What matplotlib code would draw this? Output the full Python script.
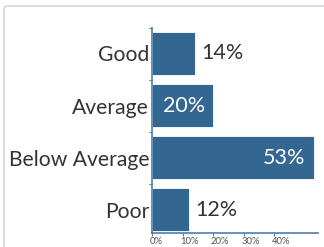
import matplotlib
matplotlib.use('Agg')
import matplotlib.pyplot as plt
from matplotlib.patches import FancyBboxPatch
import numpy as np

categories = ['Good', 'Average', 'Below Average', 'Poor']
values = [14, 20, 53, 12]
xticks = [0, 10, 20, 30, 40]
xticklabels = ['0%', '10%', '20%', '30%', '40%']

bar_color = '#336791'
axis_color = '#4a7fb0'
text_color = '#333333'

plt.rcParams['font.family'] = ['Lato', 'DejaVu Sans']

fig = plt.figure(figsize=(3.24, 2.47), dpi=100)

# card border, kept behind the axes
card = FancyBboxPatch((4/324, 1-6/247 - 1.2), 1.2, 1.2, boxstyle='round,pad=0,rounding_size=0.012',
                      transform=fig.transFigure, facecolor='white', edgecolor='#d6d6d6', lw=1.2,
                      zorder=-5)
fig.patches.append(card)

ax = fig.add_axes([152/324, 1-233/247, 166/324, 205/247])
ax.set_facecolor('none')

y = np.arange(len(categories))
ax.barh(y, values, height=0.83, color=bar_color, edgecolor='white', linewidth=0.6)
ax.set_xlim(0, 54.4)
ax.set_ylim(3.45, -0.49)

for yi, v in zip(y, values):
    if v >= 20:
        ax.annotate(f'{v}%', (v, yi), xytext=(-6, 0), textcoords='offset points',
                    ha='right', va='center', color='white', fontsize=15.5)
    else:
        ax.annotate(f'{v}%', (v, yi), xytext=(5, 0), textcoords='offset points',
                    ha='left', va='center', color=text_color, fontsize=15.5)

ax.set_yticks(y)
ax.set_yticklabels(categories, fontsize=15.2, color=text_color)
ax.tick_params(axis='y', length=0, pad=2)
ax.set_yticks([-0.49, 0.5, 1.5, 2.5], minor=True)
ax.tick_params(axis='y', which='minor', length=2, width=0.8, color=axis_color)

ax.set_xticks(xticks)
ax.set_xticklabels(xticklabels, fontsize=6.8, color='#555555', ha='left')
ax.tick_params(axis='x', length=2, width=0.8, color=axis_color, pad=1)
for lab in ax.get_xticklabels():
    lab.set_x(lab.get_position()[0])
import matplotlib.transforms as mtransforms
off = mtransforms.ScaledTranslation(-2/100, 0, fig.dpi_scale_trans)
for lab in ax.get_xticklabels():
    lab.set_transform(lab.get_transform() + off)

for s in ['top', 'right']:
    ax.spines[s].set_visible(False)
for s in ['left', 'bottom']:
    ax.spines[s].set_color(axis_color)
    ax.spines[s].set_linewidth(1.2)

fig.savefig('out.png', dpi=100)
